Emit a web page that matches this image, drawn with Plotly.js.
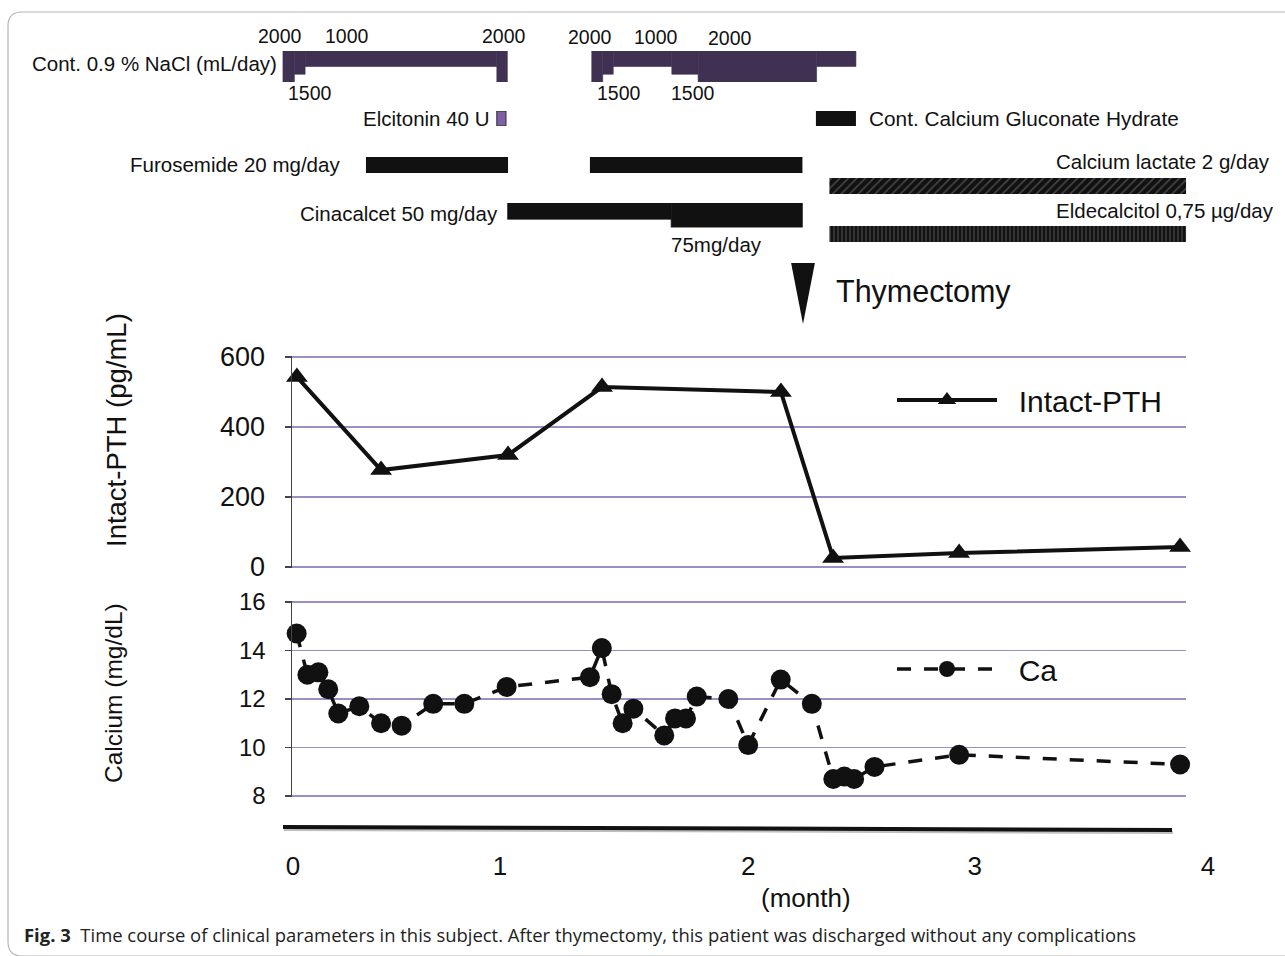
<!DOCTYPE html>
<html>
<head>
<meta charset="utf-8">
<script src="https://cdn.plot.ly/plotly-3.0.1.min.js"></script>
<style>html,body{margin:0;padding:0;background:#fff;}#chart{width:1285px;height:956px;}</style>
</head>
<body>
<div id="chart"></div>
<script>
// ---------- DATA ----------
// time in months
const pthMonth = [0.017, 0.385, 0.940, 1.351, 2.133, 2.361, 2.912, 3.878];
const pthValue = [543, 277, 320, 514, 500, 26, 40, 57];

const caMonth = [0.016, 0.063, 0.111, 0.154, 0.198, 0.290, 0.385, 0.475, 0.613, 0.749,
                 0.934, 1.298, 1.350, 1.393, 1.441, 1.488, 1.623, 1.670, 1.718, 1.765,
                 1.903, 1.990, 2.132, 2.268, 2.362, 2.410, 2.453, 2.542, 2.912, 3.878];
const caValue = [14.7, 13.0, 13.1, 12.4, 11.4, 11.7, 11.0, 10.9, 11.8, 11.8,
                 12.5, 12.9, 14.1, 12.2, 11.0, 11.6, 10.5, 11.2, 11.2, 12.1,
                 12.0, 10.1, 12.8, 11.8, 8.7, 8.8, 8.7, 9.2, 9.7, 9.3];

// continuous 0.9 % NaCl (mL/day)
const naclStart = [-0.044, 0.006, 0.053, 0.891, 1.306, 1.354, 1.400, 1.656, 1.771, 2.289];
const naclEnd   = [ 0.006, 0.053, 0.891, 0.937, 1.354, 1.400, 1.656, 1.771, 2.289, 2.461];
const naclDose  = [2000, 1500, 1000, 2000, 2000, 1500, 1000, 1500, 2000, 1000];
const naclLabelText  = ['2000', '1000', '2000', '2000', '1000', '2000', '1500', '1500', '1500'];

// other treatments (start, end in months)
const elcitoninStart = [0.891], elcitoninEnd = [0.931];
const gluconateStart = [2.286], gluconateEnd = [2.461];
const furosemideStart = [0.319, 1.298], furosemideEnd = [0.940, 2.227];
const cinacalcetStart = [0.938, 1.653], cinacalcetEnd = [1.653, 2.227];
const cinacalcetDose = [50, 75];
const lactateStart = [2.345], lactateEnd = [3.904];
const eldecalcitolStart = [2.345], eldecalcitolEnd = [3.904];
const thymectomyMonth = 2.2295;

const monthTickLabels = ['0', '1', '2', '3', '4'];
const monthTickPos = [0, 0.905, 1.99, 2.98, 4.0];

// ---------- LAYOUT HELPERS ----------
const W = 1285, H = 956;
const M0 = 293, PPM = 228.75;           // pixel of month 0, pixels per month
const fx = p => p / W;
const fy = p => 1 - p / H;
const dom = (top, bottom) => [fy(bottom), fy(top)];
const FONT = 'Liberation Sans, Arial, Helvetica, sans-serif';
const mids = (s, e) => s.map((v, i) => (v + e[i]) / 2);
const wids = (s, e) => s.map((v, i) => e[i] - v);
const ones = a => a.map(() => 1);

const GRID = '#9c8ec4';
const NACL = '#403152';
const BLACK = '#111111';

const traces = [];
function stripBar(s, e, y, yaxis, marker) {
  traces.push({type: 'bar', x: mids(s, e), width: wids(s, e), y: y, xaxis: 'x', yaxis: yaxis,
    marker: marker, showlegend: false, hoverinfo: 'skip'});
}
stripBar(naclStart, naclEnd, naclDose, 'y3', {color: NACL, line: {width: 0.6, color: NACL}});
stripBar(elcitoninStart, elcitoninEnd, ones(elcitoninStart), 'y4', {color: '#7e5fa8', line: {width: 1, color: '#2a2a2a'}});
stripBar(gluconateStart, gluconateEnd, ones(gluconateStart), 'y4', {color: BLACK, line: {width: 0}});
stripBar(furosemideStart, furosemideEnd, ones(furosemideStart), 'y5', {color: BLACK, line: {width: 0}});
stripBar(lactateStart, lactateEnd, ones(lactateStart), 'y6',
  {color: BLACK, line: {width: 0}, pattern: {shape: '/', fgcolor: '#4a4a4a', bgcolor: BLACK, size: 6, solidity: 0.25}});
stripBar(cinacalcetStart, cinacalcetEnd, cinacalcetDose, 'y7', {color: BLACK, line: {width: 0.6, color: BLACK}});
stripBar(eldecalcitolStart, eldecalcitolEnd, ones(eldecalcitolStart), 'y8',
  {color: BLACK, line: {width: 0}, pattern: {shape: '|', fgcolor: '#4a4a4a', bgcolor: BLACK, size: 4, solidity: 0.3}});

traces.push({type: 'scatter', mode: 'lines+markers', name: '&nbsp;&nbsp;Intact-PTH', x: pthMonth, y: pthValue,
  xaxis: 'x2', yaxis: 'y', line: {color: BLACK, width: 4},
  marker: {symbol: 'triangle-up', size: 19, color: BLACK}, cliponaxis: false, legend: 'legend'});
traces.push({type: 'scatter', mode: 'lines+markers', name: '&nbsp;&nbsp;Ca', x: caMonth, y: caValue,
  xaxis: 'x2', yaxis: 'y2', line: {color: BLACK, width: 3.5, dash: '14px,13px'},
  marker: {symbol: 'circle', size: 20, color: BLACK}, cliponaxis: false, legend: 'legend2'});

const rowAxis = (top, bottom, range) => ({domain: dom(top, bottom), range: range, anchor: 'x',
  visible: false, fixedrange: true});

// panel axis: value vTop at pixel top, vBot at pixel bottom; padded so edge gridlines are drawn
const yPanel = (top, bottom, vBot, vTop, dtick, fsize) => {
  const pad = (vTop - vBot) * 0.006;
  const k = (bottom - top) / (vTop - vBot);
  return {
    domain: dom(top - pad * k, bottom + pad * k), range: [vBot - pad, vTop + pad], dtick: dtick,
    tick0: vBot, anchor: 'x2',
    showline: true, linecolor: '#444', linewidth: 1.5, ticks: 'outside', ticklen: 6, tickcolor: '#444', tickwidth: 1.5,
    showgrid: true, gridcolor: GRID, gridwidth: 1.5, zeroline: false,
    tickfont: {family: FONT, size: fsize, color: '#111'}, ticklabelstandoff: 14};
};

const layout = {
  width: W, height: H, margin: {l: 0, r: 0, t: 0, b: 0},
  paper_bgcolor: '#fff', plot_bgcolor: 'rgba(0,0,0,0)',
  barmode: 'overlay', font: {family: FONT, color: '#111'},
  xaxis: {domain: [0, 1], range: [(0 - M0) / PPM, (W - M0) / PPM], anchor: 'free', position: fy(848),
    showgrid: false, zeroline: false, showline: false, ticks: '',
    tickvals: monthTickPos, ticktext: monthTickLabels, tickfont: {family: FONT, size: 26, color: '#111'}},
  xaxis2: {domain: [fx(292), fx(1186)], range: [(292 - M0) / PPM, (1186 - M0) / PPM], anchor: 'y2',
    visible: false},
  yaxis: yPanel(357, 567, 0, 600, 200, 27),
  yaxis2: yPanel(602, 796, 8, 16, 2, 24),
  yaxis3: rowAxis(51, 82, [2000, 0]),
  yaxis4: rowAxis(111, 126, [1, 0]),
  yaxis5: rowAxis(157, 173, [1, 0]),
  yaxis6: rowAxis(178, 194, [1, 0]),
  yaxis7: rowAxis(203, 227.5, [75, 0]),
  yaxis8: rowAxis(226, 242, [1, 0]),
  legend: {x: fx(892), y: fy(400), xanchor: 'left', yanchor: 'middle', bgcolor: 'rgba(0,0,0,0)',
    font: {family: FONT, size: 30, color: '#111'}, itemwidth: 100},
  legend2: {x: fx(892), y: fy(669), xanchor: 'left', yanchor: 'middle', bgcolor: 'rgba(0,0,0,0)',
    font: {family: FONT, size: 30, color: '#111'}, itemwidth: 100},
  shapes: [
    // figure frame
    {type: 'path', xref: 'paper', yref: 'paper', line: {color: '#b5b5b5', width: 1.2},
      path: `M ${fx(1300)},${fy(12)} L ${fx(22)},${fy(12)} Q ${fx(8)},${fy(12)} ${fx(8)},${fy(26)} L ${fx(8)},${fy(942)} Q ${fx(8)},${fy(956)} ${fx(22)},${fy(956)} L ${fx(1300)},${fy(956)}`},
    // bottom baseline
    {type: 'line', xref: 'paper', yref: 'paper', x0: fx(284), y0: fy(829.5), x1: fx(1173), y1: fy(832.5),
      line: {color: 'rgba(0,0,0,0.25)', width: 3}},
    {type: 'line', xref: 'paper', yref: 'paper', x0: fx(283), y0: fy(827), x1: fx(1172), y1: fy(830),
      line: {color: BLACK, width: 4}},
    // thymectomy marker
    {type: 'path', xref: 'x', yref: 'paper', fillcolor: BLACK, line: {width: 0},
      path: `M ${thymectomyMonth - 0.052},${fy(263)} L ${thymectomyMonth + 0.052},${fy(263)} L ${thymectomyMonth},${fy(324)} Z`}
  ],
  annotations: []
};

function note(text, x, y, xanchor, size, extra) {
  layout.annotations.push(Object.assign({text: text, xref: 'paper', yref: 'paper', x: fx(x), y: fy(y),
    xanchor: xanchor, yanchor: 'middle', showarrow: false,
    font: {family: FONT, size: size, color: '#111'}}, extra || {}));
}
note('Cont. 0.9 % NaCl (mL/day)', 279, 64, 'right', 20.5);
note('Elcitonin 40 U', 491, 118, 'right', 20.5);
note('Cont. Calcium Gluconate Hydrate', 867, 118, 'left', 20.8);
note('Furosemide 20 mg/day', 342, 165, 'right', 20.5);
note('Calcium lactate 2 g/day', 1272, 162, 'right', 20.5);
note('Cinacalcet 50 mg/day', 500, 213, 'right', 20.5);
note('Eldecalcitol 0,75 µg/day', 1276, 211, 'right', 20.5);
note('75mg/day', 669, 245, 'left', 20.5);
note('Thymectomy', 834, 291, 'left', 30.5);
note('(month)', 806, 898, 'center', 26);
note('Intact-PTH (pg/mL)', 116, 430, 'center', 27.5, {textangle: -90});
note('Calcium (mg/dL)', 113, 693, 'center', 24.5, {textangle: -90});
note('<b>Fig. 3</b>  Time course of clinical parameters in this subject. After thymectomy, this patient was discharged without any complications',
  22, 934, 'left', 18, {font: {family: 'Open Sans, sans-serif', size: 18.45, color: '#222'}});

// NaCl dose labels (month positions)
const naclLabelPos = [-0.057, 0.236, 0.922, 1.298, 1.587, 1.910, 0.074, 1.425, 1.749];
const naclLabelY   = [36, 36, 36, 37, 37, 38, 93, 93, 93];
naclLabelText.forEach((t, i) => {
  layout.annotations.push({text: t, xref: 'x', yref: 'paper', x: naclLabelPos[i], y: fy(naclLabelY[i]),
    xanchor: 'center', yanchor: 'middle', showarrow: false, font: {family: FONT, size: 19.5, color: '#111'}});
});

Plotly.newPlot('chart', traces, layout, {displayModeBar: false, staticPlot: true});
</script>
</body>
</html>
